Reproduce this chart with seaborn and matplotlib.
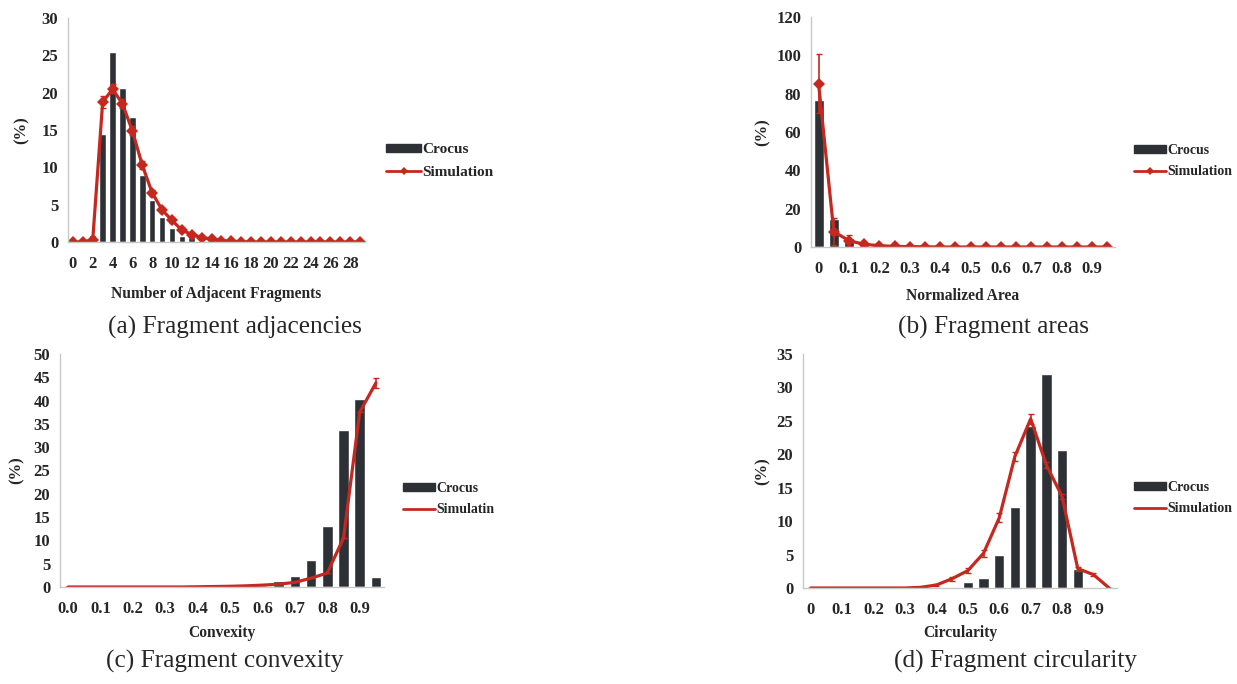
import numpy as np
import pandas as pd
import matplotlib
matplotlib.use("Agg")
import matplotlib.pyplot as plt
import seaborn as sns
from matplotlib.lines import Line2D
from matplotlib.patches import Patch

# (a) adjacencies
adj_cats = [str(i) for i in range(30)]
adj_crocus = [0, 0, 1.0, 14.5, 25.4, 20.6, 16.7, 9.0, 5.6, 3.4, 1.9, 0.8, 0.7, 0.2, 0.1,
              0, 0, 0, 0, 0, 0, 0, 0, 0, 0, 0, 0, 0, 0, 0]
adj_sim = [0, 0, 0.3, 18.7, 20.5, 18.5, 14.9, 10.3, 6.6, 4.3, 2.9, 1.6, 1.0, 0.6, 0.4,
           0.2, 0.1, 0.05, 0, 0, 0, 0, 0, 0, 0, 0, 0, 0, 0, 0]
adj_err = [0, 0, 0.2, 0.8, 0.6, 0.6, 0.6, 0.5, 0.4, 0.3, 0.3, 0.2, 0.2, 0.1, 0.1,
           0, 0, 0, 0, 0, 0, 0, 0, 0, 0, 0, 0, 0, 0, 0]
adj_ticks = [str(i) for i in range(0, 30, 2)]

# shared bins 0 .. 0.95
bin_cats = ["%.2f" % (i * 0.05) for i in range(20)]

# (b) areas
area_crocus = [76.9, 14.6, 4.9, 1.0, 0.5, 0.2, 0.1, 0, 0, 0, 0, 0, 0, 0, 0, 0, 0, 0, 0, 0]
area_sim = [85.2, 8.0, 3.3, 1.4, 0.7, 0.3, 0.2, 0.1, 0, 0, 0, 0, 0, 0, 0, 0, 0, 0, 0, 0]
area_err = [15.3, 7.0, 3.0, 0.8, 0.4, 0.2, 0.1, 0, 0, 0, 0, 0, 0, 0, 0, 0, 0, 0, 0, 0]
area_ticks = ["0", "0.1", "0.2", "0.3", "0.4", "0.5", "0.6", "0.7", "0.8", "0.9"]

# (c) convexity
conv_crocus = [0, 0, 0, 0, 0, 0, 0, 0, 0, 0, 0, 0, 0.3, 1.3, 2.3, 5.7, 13.1, 33.6, 40.3, 2.1]
conv_sim = [0, 0, 0, 0, 0, 0, 0, 0, 0.05, 0.1, 0.15, 0.25, 0.4, 0.6, 1.0, 1.9, 3.0, 10.5, 37.5, 43.8]
conv_err = [0, 0, 0, 0, 0, 0, 0, 0, 0, 0, 0, 0, 0, 0, 0, 0, 0, 0, 0, 1.0]
conv_ticks = ["0.0", "0.1", "0.2", "0.3", "0.4", "0.5", "0.6", "0.7", "0.8", "0.9"]

# (d) circularity
circ_crocus = [0, 0, 0, 0, 0, 0, 0, 0, 0, 0.2, 0.9, 1.5, 5.0, 12.1, 24.2, 32.0, 20.6, 2.9, 0.1, 0]
circ_sim = [0, 0, 0, 0, 0, 0, 0, 0.1, 0.45, 1.4, 2.6, 5.2, 10.5, 19.7, 25.3, 18.4, 13.7, 2.9, 2.0, 0]
circ_err = [0, 0, 0, 0, 0, 0, 0, 0, 0.1, 0.3, 0.4, 0.5, 0.7, 0.7, 0.7, 0.5, 0.4, 0.3, 0.2, 0]
circ_ticks = area_ticks

BAR = "#2d3136"
RED = "#c4281f"
GREY = "#c8c8c8"

sns.set_style("white")
plt.rcParams["font.family"] = ["Liberation Serif", "DejaVu Serif"]

W, H = 1237, 684
fig = plt.figure(figsize=(W / 100, H / 100), dpi=100)


def make_ax(left, right, top, bottom):
    return fig.add_axes([left / W, 1 - bottom / H, (right - left) / W, (bottom - top) / H])


def panel(box, cats, crocus, sim, err, ticks, ymax, ystep, xlabel, sim_name, markers,
          ylab_x, xlab_y, leg_xy, leg_size, title, title_xy):
    left, right, top, bottom = box
    ax = make_ax(left, right, top, bottom)
    df = pd.DataFrame({"cat": cats, "Crocus": crocus})
    sns.barplot(data=df, x="cat", y="Crocus", color=BAR, saturation=1, width=0.66, ax=ax)
    pos = np.arange(len(cats))
    sns.lineplot(x=pos, y=sim, color=RED, lw=2.3, marker="D" if markers else None,
                 markersize=6, markeredgewidth=0, ax=ax)
    ax.errorbar(pos, sim, yerr=err, fmt="none", ecolor=RED, elinewidth=1.2, capsize=2.5)
    ax.set_xlim(-0.5, len(cats) - 0.5)
    ax.set_ylim(0, ymax)
    ax.set_yticks(np.arange(0, ymax + 0.1, ystep))
    ax.set_xticks(pos[::2])
    ax.set_xticklabels(ticks)
    ax.set_xticks(np.arange(-0.5, len(cats), 1), minor=True)
    ax.tick_params(axis="x", which="major", length=0, pad=10)
    ax.tick_params(axis="x", which="minor", length=3, color=GREY, width=0.8)
    ax.tick_params(axis="y", length=3, color=GREY, width=0.8, pad=4)
    for lab in ax.get_xticklabels() + ax.get_yticklabels():
        lab.set_fontweight("bold")
        lab.set_fontsize(12)
    for s in ["top", "right"]:
        ax.spines[s].set_visible(False)
    for s in ["left", "bottom"]:
        ax.spines[s].set_color(GREY)
        ax.spines[s].set_linewidth(1)
    ax.set_xlabel(xlabel, fontsize=11.2, fontweight="bold", va="center")
    ax.xaxis.set_label_coords(0.5, (bottom - xlab_y) / (bottom - top))
    ax.set_ylabel("(%)", fontsize=12, fontweight="bold", va="center")
    ax.yaxis.set_label_coords((ylab_x - left) / (right - left), 0.5)
    handles = [Patch(facecolor=BAR, edgecolor=BAR),
               Line2D([], [], color=RED, lw=2, marker="D" if markers else None,
                      markersize=4.5, markeredgewidth=0)]
    ax.legend(handles, ["Crocus", sim_name], loc="center left",
              bbox_to_anchor=(leg_xy[0] / W, 1 - leg_xy[1] / H), bbox_transform=fig.transFigure,
              frameon=False, prop={"weight": "bold", "size": leg_size}, handlelength=2.3,
              handleheight=0.45, handletextpad=0.1, labelspacing=0.6, borderpad=0, borderaxespad=0)
    fig.text(title_xy[0] / W, 1 - title_xy[1] / H, title, ha="center", va="center", fontsize=18.2)
    return ax


panel((68, 365, 18, 242), adj_cats, adj_crocus, adj_sim, adj_err, adj_ticks, 30, 5,
      "Number of Adjacent Fragments", "Simulation", True, 22, 294, (386, 161), 11,
      "(a) Fragment adjacencies", (235, 327))
panel((811, 1115, 17, 247), bin_cats, area_crocus, area_sim, area_err, area_ticks, 120, 20,
      "Normalized Area", "Simulation", True, 763, 296, (1134, 161), 10,
      "(b) Fragment areas", (993, 327))
panel((60, 384, 354, 587), bin_cats, conv_crocus, conv_sim, conv_err, conv_ticks, 50, 5,
      "Convexity", "Simulatin", False, 17, 633, (403, 499), 10,
      "(c) Fragment convexity", (225, 661))
panel((803, 1117, 354, 588), bin_cats, circ_crocus, circ_sim, circ_err, circ_ticks, 35, 5,
      "Circularity", "Simulation", False, 763, 633, (1134, 498), 10,
      "(d) Fragment circularity", (1016, 661))

fig.savefig("out.png", dpi=100)
